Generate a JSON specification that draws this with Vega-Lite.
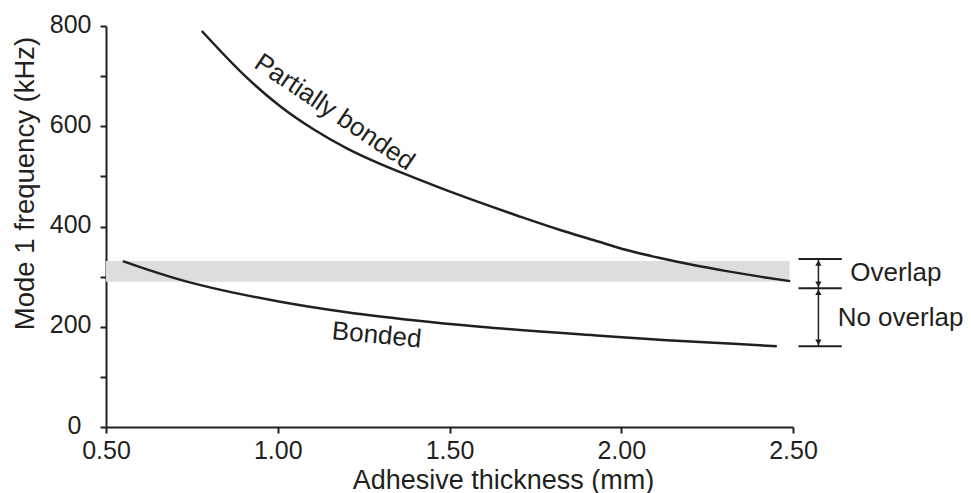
{
  "$schema": "https://vega.github.io/schema/vega-lite/v6.json",
  "width": 687,
  "height": 401,
  "autosize": {"type": "none"},
  "padding": {"left": 106, "top": 26, "right": 178, "bottom": 66},
  "background": "white",
  "config": {
    "view": {"stroke": null},
    "font": "Liberation Sans",
    "axis": {
      "domainColor": "#231f20",
      "domainWidth": 2,
      "tickColor": "#231f20",
      "tickWidth": 2,
      "tickSize": 6,
      "labelColor": "#231f20",
      "titleColor": "#231f20",
      "labelFont": "Liberation Sans",
      "titleFont": "Liberation Sans",
      "titleFontWeight": "normal",
      "grid": false,
      "labelFlush": false,
      "labelOverlap": false
    }
  },
  "datasets": {
    "curves": [
      {"series": "Partially bonded", "thickness": 0.779, "freq": 790},
      {"series": "Partially bonded", "thickness": 0.910, "freq": 697},
      {"series": "Partially bonded", "thickness": 1.007, "freq": 640},
      {"series": "Partially bonded", "thickness": 1.104, "freq": 594},
      {"series": "Partially bonded", "thickness": 1.201, "freq": 556},
      {"series": "Partially bonded", "thickness": 1.298, "freq": 525},
      {"series": "Partially bonded", "thickness": 1.395, "freq": 498},
      {"series": "Partially bonded", "thickness": 1.473, "freq": 477},
      {"series": "Partially bonded", "thickness": 1.600, "freq": 445},
      {"series": "Partially bonded", "thickness": 1.700, "freq": 421},
      {"series": "Partially bonded", "thickness": 1.822, "freq": 393},
      {"series": "Partially bonded", "thickness": 1.919, "freq": 373},
      {"series": "Partially bonded", "thickness": 2.016, "freq": 353},
      {"series": "Partially bonded", "thickness": 2.113, "freq": 337},
      {"series": "Partially bonded", "thickness": 2.210, "freq": 323},
      {"series": "Partially bonded", "thickness": 2.307, "freq": 311},
      {"series": "Partially bonded", "thickness": 2.404, "freq": 300},
      {"series": "Partially bonded", "thickness": 2.492, "freq": 291},
      {"series": "Bonded", "thickness": 0.549, "freq": 331},
      {"series": "Bonded", "thickness": 0.630, "freq": 312},
      {"series": "Bonded", "thickness": 0.715, "freq": 294},
      {"series": "Bonded", "thickness": 0.812, "freq": 277},
      {"series": "Bonded", "thickness": 1.007, "freq": 250},
      {"series": "Bonded", "thickness": 1.201, "freq": 229},
      {"series": "Bonded", "thickness": 1.395, "freq": 213},
      {"series": "Bonded", "thickness": 1.589, "freq": 200},
      {"series": "Bonded", "thickness": 1.939, "freq": 182},
      {"series": "Bonded", "thickness": 2.133, "freq": 173},
      {"series": "Bonded", "thickness": 2.327, "freq": 166},
      {"series": "Bonded", "thickness": 2.453, "freq": 161}
    ],
    "band": [
      {"start": 0.5, "end": 2.49, "low": 290, "high": 331}
    ],
    "bars": [
      {"from": 2.516, "to": 2.642, "freq": 335},
      {"from": 2.516, "to": 2.642, "freq": 277},
      {"from": 2.516, "to": 2.642, "freq": 161}
    ],
    "spans": [
      {"pos": 2.574, "low": 277, "high": 335, "label": "Overlap"},
      {"pos": 2.574, "low": 161, "high": 277, "label": "No overlap"}
    ]
  },
  "layer": [
    {
      "data": {"name": "band"},
      "mark": {"type": "rect", "color": "#dcddde"},
      "encoding": {
        "x": {"field": "start", "type": "quantitative",
              "scale": {"domain": [0.5, 2.5], "nice": false, "zero": false},
              "axis": {
                "title": "Adhesive thickness (mm)",
                "values": [0.5, 1, 1.5, 2, 2.5],
                "format": ".2f",
                "labelFontSize": 25,
                "labelDx": 10,
                "labelBaseline": "alphabetic",
                "labelPadding": 25,
                "titleFontSize": 27,
                "titleX": 397,
                "titleY": 61,
                "titleAlign": "center",
                "titleBaseline": "alphabetic"
              }},
        "x2": {"field": "end"},
        "y": {"field": "low", "type": "quantitative",
              "scale": {"domain": [0, 800], "nice": false},
              "axis": {
                "title": "Mode 1 frequency (kHz)",
                "values": [0, 100, 200, 300, 400, 500, 600, 700, 800],
                "labelExpr": "datum.value % 200 === 0 ? datum.label : ''",
                "labelFontSize": 25,
                "labelPadding": {"condition": {"test": "datum.value === 0", "value": 19}, "value": 9},
                "labelOffset": -2,
                "titleFontSize": 27.5,
                "titleAngle": -90,
                "titleX": -81,
                "titleY": 157,
                "titleAlign": "center",
                "titleBaseline": "middle"
              }},
        "y2": {"field": "high"}
      }
    },
    {
      "data": {"name": "curves"},
      "mark": {"type": "line", "color": "#231f20", "strokeWidth": 2.5, "interpolate": "monotone"},
      "encoding": {
        "x": {"field": "thickness", "type": "quantitative"},
        "y": {"field": "freq", "type": "quantitative"},
        "detail": {"field": "series"}
      }
    },
    {
      "data": {"values": [{"text": "Partially bonded", "thickness": 1.165, "freq": 628}]},
      "mark": {"type": "text", "fontSize": 26, "angle": 34, "align": "center", "baseline": "middle", "color": "#231f20"},
      "encoding": {
        "x": {"field": "thickness", "type": "quantitative"},
        "y": {"field": "freq", "type": "quantitative"},
        "text": {"field": "text"}
      }
    },
    {
      "data": {"values": [{"text": "Bonded", "thickness": 1.288, "freq": 183}]},
      "mark": {"type": "text", "fontSize": 26, "angle": 5.5, "align": "center", "baseline": "middle", "color": "#231f20"},
      "encoding": {
        "x": {"field": "thickness", "type": "quantitative"},
        "y": {"field": "freq", "type": "quantitative"},
        "text": {"field": "text"}
      }
    },
    {
      "data": {"name": "bars"},
      "mark": {"type": "rule", "color": "#231f20", "strokeWidth": 2},
      "encoding": {
        "x": {"field": "from", "type": "quantitative"},
        "x2": {"field": "to"},
        "y": {"field": "freq", "type": "quantitative"}
      }
    },
    {
      "data": {"name": "spans"},
      "mark": {"type": "rule", "color": "#231f20", "strokeWidth": 1.5},
      "encoding": {
        "x": {"field": "pos", "type": "quantitative"},
        "y": {"field": "low", "type": "quantitative"},
        "y2": {"field": "high"}
      }
    },
    {
      "data": {"name": "spans"},
      "mark": {"type": "point", "shape": "triangle-up", "filled": true, "size": 40, "color": "#231f20", "opacity": 1, "yOffset": 4},
      "encoding": {
        "x": {"field": "pos", "type": "quantitative"},
        "y": {"field": "high", "type": "quantitative"}
      }
    },
    {
      "data": {"name": "spans"},
      "mark": {"type": "point", "shape": "triangle-down", "filled": true, "size": 40, "color": "#231f20", "opacity": 1, "yOffset": -4},
      "encoding": {
        "x": {"field": "pos", "type": "quantitative"},
        "y": {"field": "low", "type": "quantitative"}
      }
    },
    {
      "data": {"values": [
        {"text": "Overlap", "thickness": 2.667, "freq": 307},
        {"text": "No overlap", "thickness": 2.630, "freq": 217}
      ]},
      "mark": {"type": "text", "fontSize": 26, "align": "left", "baseline": "middle", "color": "#231f20"},
      "encoding": {
        "x": {"field": "thickness", "type": "quantitative"},
        "y": {"field": "freq", "type": "quantitative"},
        "text": {"field": "text"}
      }
    }
  ]
}
